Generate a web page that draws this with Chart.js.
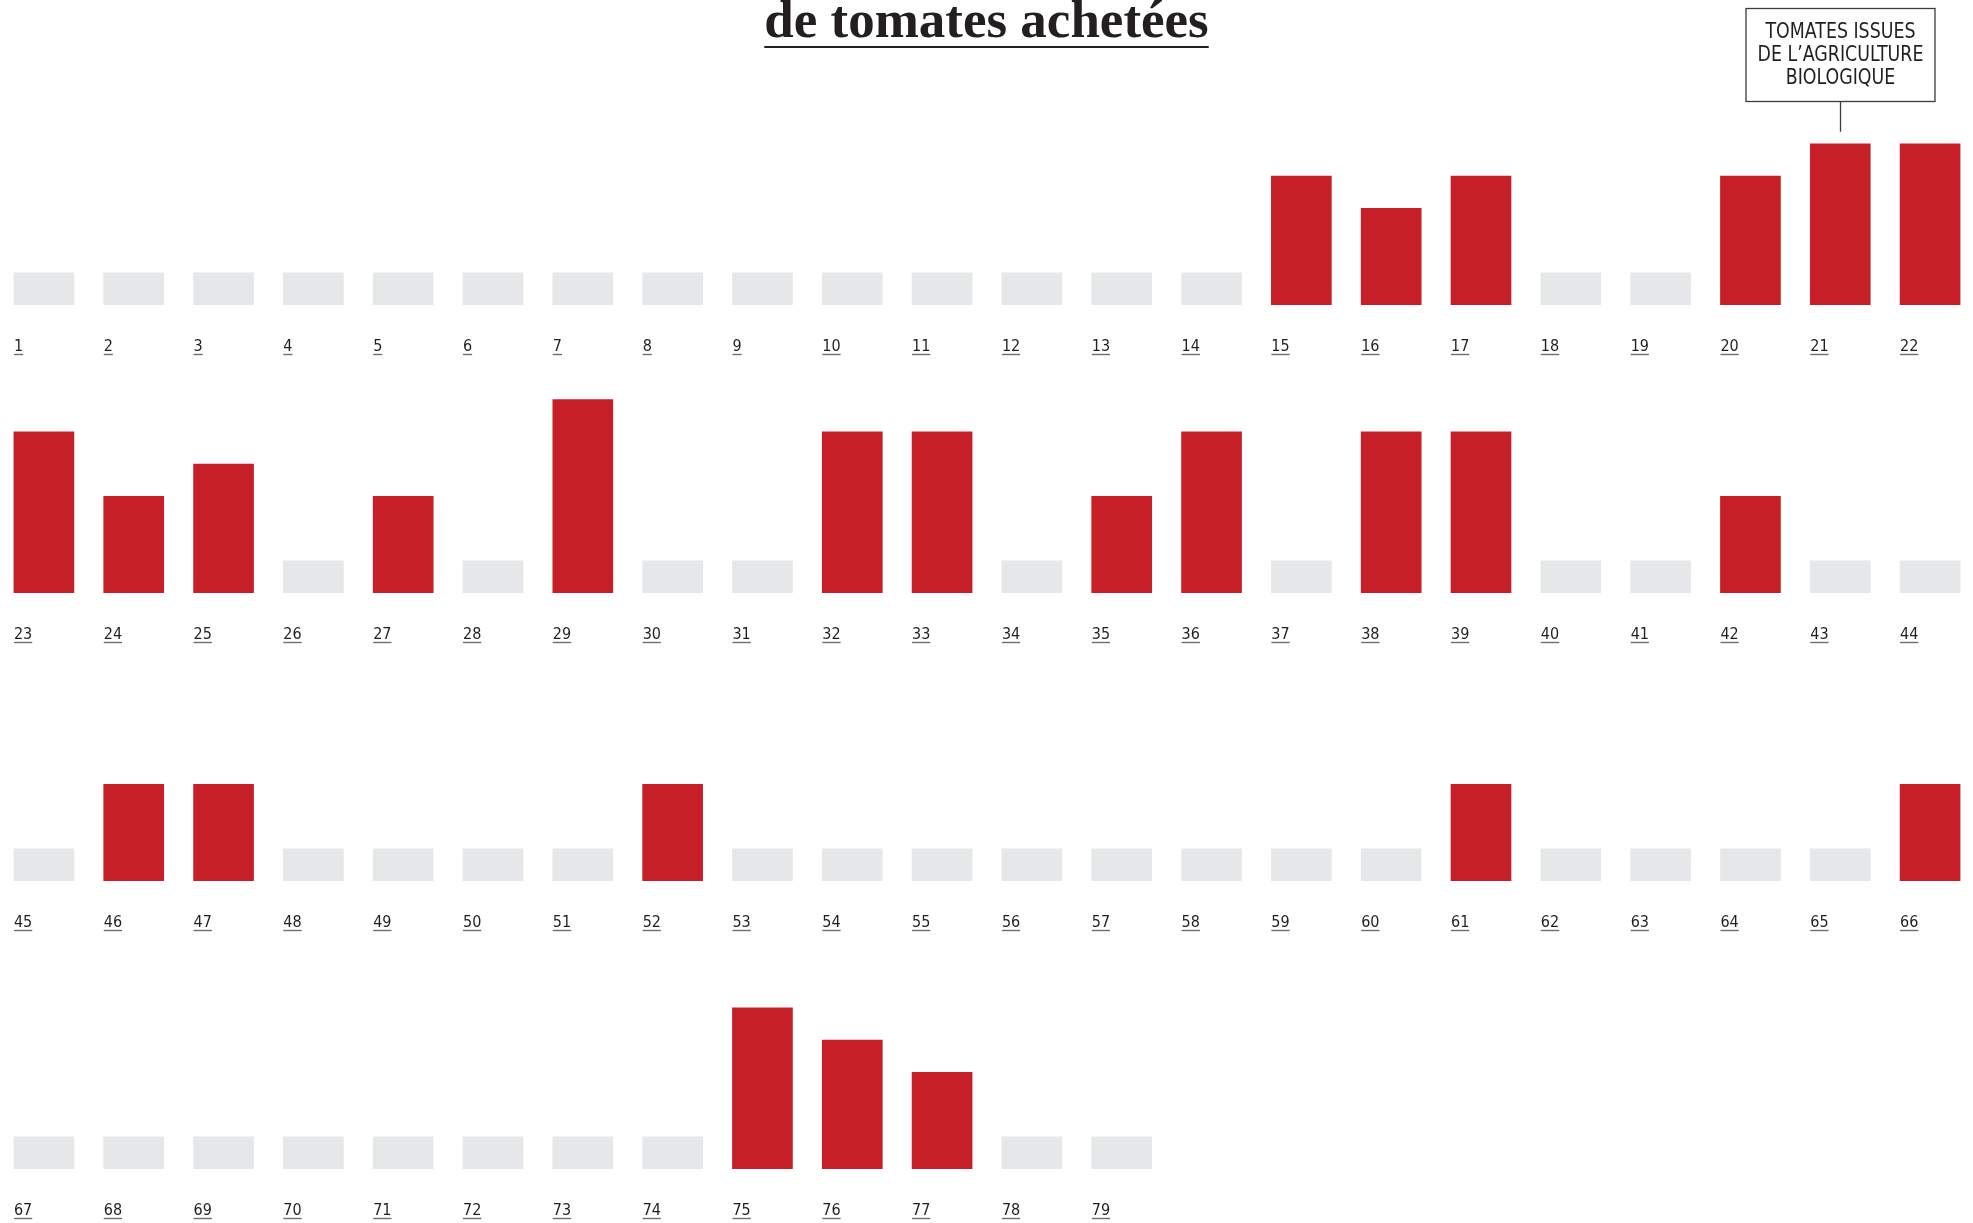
<!DOCTYPE html>
<html lang="fr">
<head>
<meta charset="utf-8">
<title>Nombre de tomates achetées</title>
<script src="https://cdn.jsdelivr.net/npm/chart.js@4.4.1/dist/chart.umd.min.js"></script>
<style>
  html, body { margin: 0; padding: 0; background: #fff; overflow: hidden; }
  #page { position: relative; width: 1973px; height: 1223px; overflow: hidden; background: #fff; }
  #titre {
    position: absolute; left: 0; top: -7px; width: 1973px; margin: 0;
    text-align: center; color: #231f20;
    font: bold 53px/53px "Liberation Serif", "Times New Roman", serif;
  }
  #titre span {
    text-decoration: underline;
    text-decoration-thickness: 2px;
    text-underline-offset: 9px;
  }
  canvas.rangee { position: absolute; left: -1px; }
</style>
</head>
<body>
<div id="page">
  <h1 id="titre"><span>de tomates achetées</span></h1>
  <canvas class="rangee" id="rangee1" width="1976" height="364"></canvas>
  <canvas class="rangee" id="rangee2" width="1976" height="364"></canvas>
  <canvas class="rangee" id="rangee3" width="1976" height="364"></canvas>
  <canvas class="rangee" id="rangee4" width="1976" height="364"></canvas>
</div>
<script>
// Numéros des achats, une rangée par ligne du graphique
const numeros1 = ['1','2','3','4','5','6','7','8','9','10','11','12','13','14','15','16','17','18','19','20','21','22'];
const numeros2 = ['23','24','25','26','27','28','29','30','31','32','33','34','35','36','37','38','39','40','41','42','43','44'];
const numeros3 = ['45','46','47','48','49','50','51','52','53','54','55','56','57','58','59','60','61','62','63','64','65','66'];
const numeros4 = ['67','68','69','70','71','72','73','74','75','76','77','78','79'];

// Tomates bio achetées (0 = aucune, barre grise)
const bio1 = [0,0,0,0,0,0,0,0,0,0,0,0,0,0,4,3,4,0,0,4,5,5];
const bio2 = [5,3,4,0,3,0,6,0,0,5,5,0,3,5,0,5,5,0,0,3,0,0];
const bio3 = [0,3,3,0,0,0,0,3,0,0,0,0,0,0,0,0,3,0,0,0,0,3];
const bio4 = [0,0,0,0,0,0,0,0,5,4,3,0,0];

// Texte de l'encadré
const encadreTexte = ['TOMATES ISSUES', 'DE L\u2019AGRICULTURE', 'BIOLOGIQUE'];
const encadreNumero = '21';

const ROUGE = '#c61f27';
const GRIS = '#e6e7e8';
const ENCRE = '#231f20';
const PAR_RANGEE = 22;
const HAUTEUR_AUCUNE = 1;   // hauteur de la barre grise « aucune »
const BARRE = 60;           // largeur des barres en px
const ECART_RANGEES = 288;  // distance verticale entre deux rangées
const DECALAGE_HAUT = 1;    // position verticale de la première rangée
const POLICE_ETROITE = '"Liberation Sans Narrow", "DejaVu Sans Condensed", "Arial Narrow", sans-serif';
const TAILLE_NUMEROS = 16;

// Soulignement des numéros sous chaque barre
const souligne = {
  id: 'souligne',
  afterDraw(chart) {
    const sx = chart.scales.x;
    const ctx = chart.ctx;
    ctx.save();
    ctx.font = TAILLE_NUMEROS + 'px ' + POLICE_ETROITE;
    ctx.strokeStyle = '#6d6e71';
    ctx.lineWidth = 1.4;
    chart.data.labels.forEach((lab, i) => {
      if (!lab) return;
      const x0 = sx.getPixelForTick(i) - BARRE / 2;
      const w = ctx.measureText(lab).width;
      const y = chart.chartArea.bottom + 49.5;
      ctx.beginPath();
      ctx.moveTo(x0, y);
      ctx.lineTo(x0 + w, y);
      ctx.stroke();
    });
    ctx.restore();
  }
};

// Encadré de légende relié à une barre
const encadre = {
  id: 'encadre',
  afterDatasetsDraw(chart, args, opts) {
    if (!opts || !opts.texte) return;
    const { ctx, scales: { x, y } } = chart;
    const i = chart.data.labels.indexOf(opts.numero);
    if (i < 0) return;
    const cx = Math.round(x.getPixelForValue(i)) + 0.5;
    const hautBarre = y.getPixelForValue(chart.data.datasets[0].data[i]);
    const basBoite = Math.round(hautBarre - 43) + 0.5;
    const hauteur = 93, largeur = 189;
    const hautBoite = basBoite - hauteur;
    ctx.save();
    ctx.strokeStyle = '#3b3b3d';
    ctx.lineWidth = 1.3;
    ctx.strokeRect(cx - largeur / 2, hautBoite, largeur, hauteur);
    ctx.beginPath();
    ctx.moveTo(cx, basBoite);
    ctx.lineTo(cx, hautBarre - 12);
    ctx.stroke();
    // texte en capitales étroites
    ctx.fillStyle = ENCRE;
    ctx.font = '22px ' + POLICE_ETROITE;
    ctx.textAlign = 'center';
    ctx.textBaseline = 'middle';
    ctx.translate(cx, 0);
    ctx.scale(0.88, 1);
    opts.texte.forEach((ligne, k) => ctx.fillText(ligne, 0, hautBoite + 24 + k * 23));
    ctx.restore();
  }
};

function creerRangee(id, rang, numeros, valeurs, avecEncadre) {
  const canvas = document.getElementById(id);
  canvas.style.top = (DECALAGE_HAUT + rang * ECART_RANGEES) + 'px';
  const labels = numeros.slice();
  while (labels.length < PAR_RANGEE) labels.push('');
  const rouges = valeurs.map(v => v > 0 ? v : null);
  const gris = valeurs.map(v => v > 0 ? null : HAUTEUR_AUCUNE);

  const plugins = [souligne];
  if (avecEncadre) plugins.push(encadre);

  return new Chart(canvas, {
    type: 'bar',
    data: {
      labels,
      datasets: [
        { label: 'Tomates bio', data: rouges, backgroundColor: ROUGE, barThickness: BARRE, grouped: false, borderWidth: 0 },
        { label: 'Aucune', data: gris, backgroundColor: GRIS, barThickness: BARRE, grouped: false, borderWidth: 0 }
      ]
    },
    options: {
      responsive: false,
      animation: false,
      events: [],
      layout: { padding: { top: 46, left: 0, right: 0, bottom: 0 } },
      plugins: {
        legend: { display: false },
        tooltip: { enabled: false },
        title: { display: false },
        encadre: avecEncadre ? { numero: encadreNumero, texte: encadreTexte } : {}
      },
      scales: {
        x: {
          grid: { display: false, drawTicks: false },
          border: { display: false },
          ticks: {
            autoSkip: false,
            maxRotation: 0,
            minRotation: 0,
            align: 'start',
            labelOffset: -BARRE / 2,
            padding: 32,
            color: ENCRE,
            font: { family: POLICE_ETROITE, size: TAILLE_NUMEROS }
          },
          afterFit(scale) {
            // même largeur utile pour toutes les rangées
            scale.height = 60;
            scale.paddingLeft = 0;
            scale.paddingRight = 0;
          }
        },
        y: {
          display: false,
          min: 0,
          max: 8
        }
      }
    },
    plugins
  });
}

creerRangee('rangee1', 0, numeros1, bio1, true);
creerRangee('rangee2', 1, numeros2, bio2, false);
creerRangee('rangee3', 2, numeros3, bio3, false);
creerRangee('rangee4', 3, numeros4, bio4, false);
</script>
</body>
</html>
